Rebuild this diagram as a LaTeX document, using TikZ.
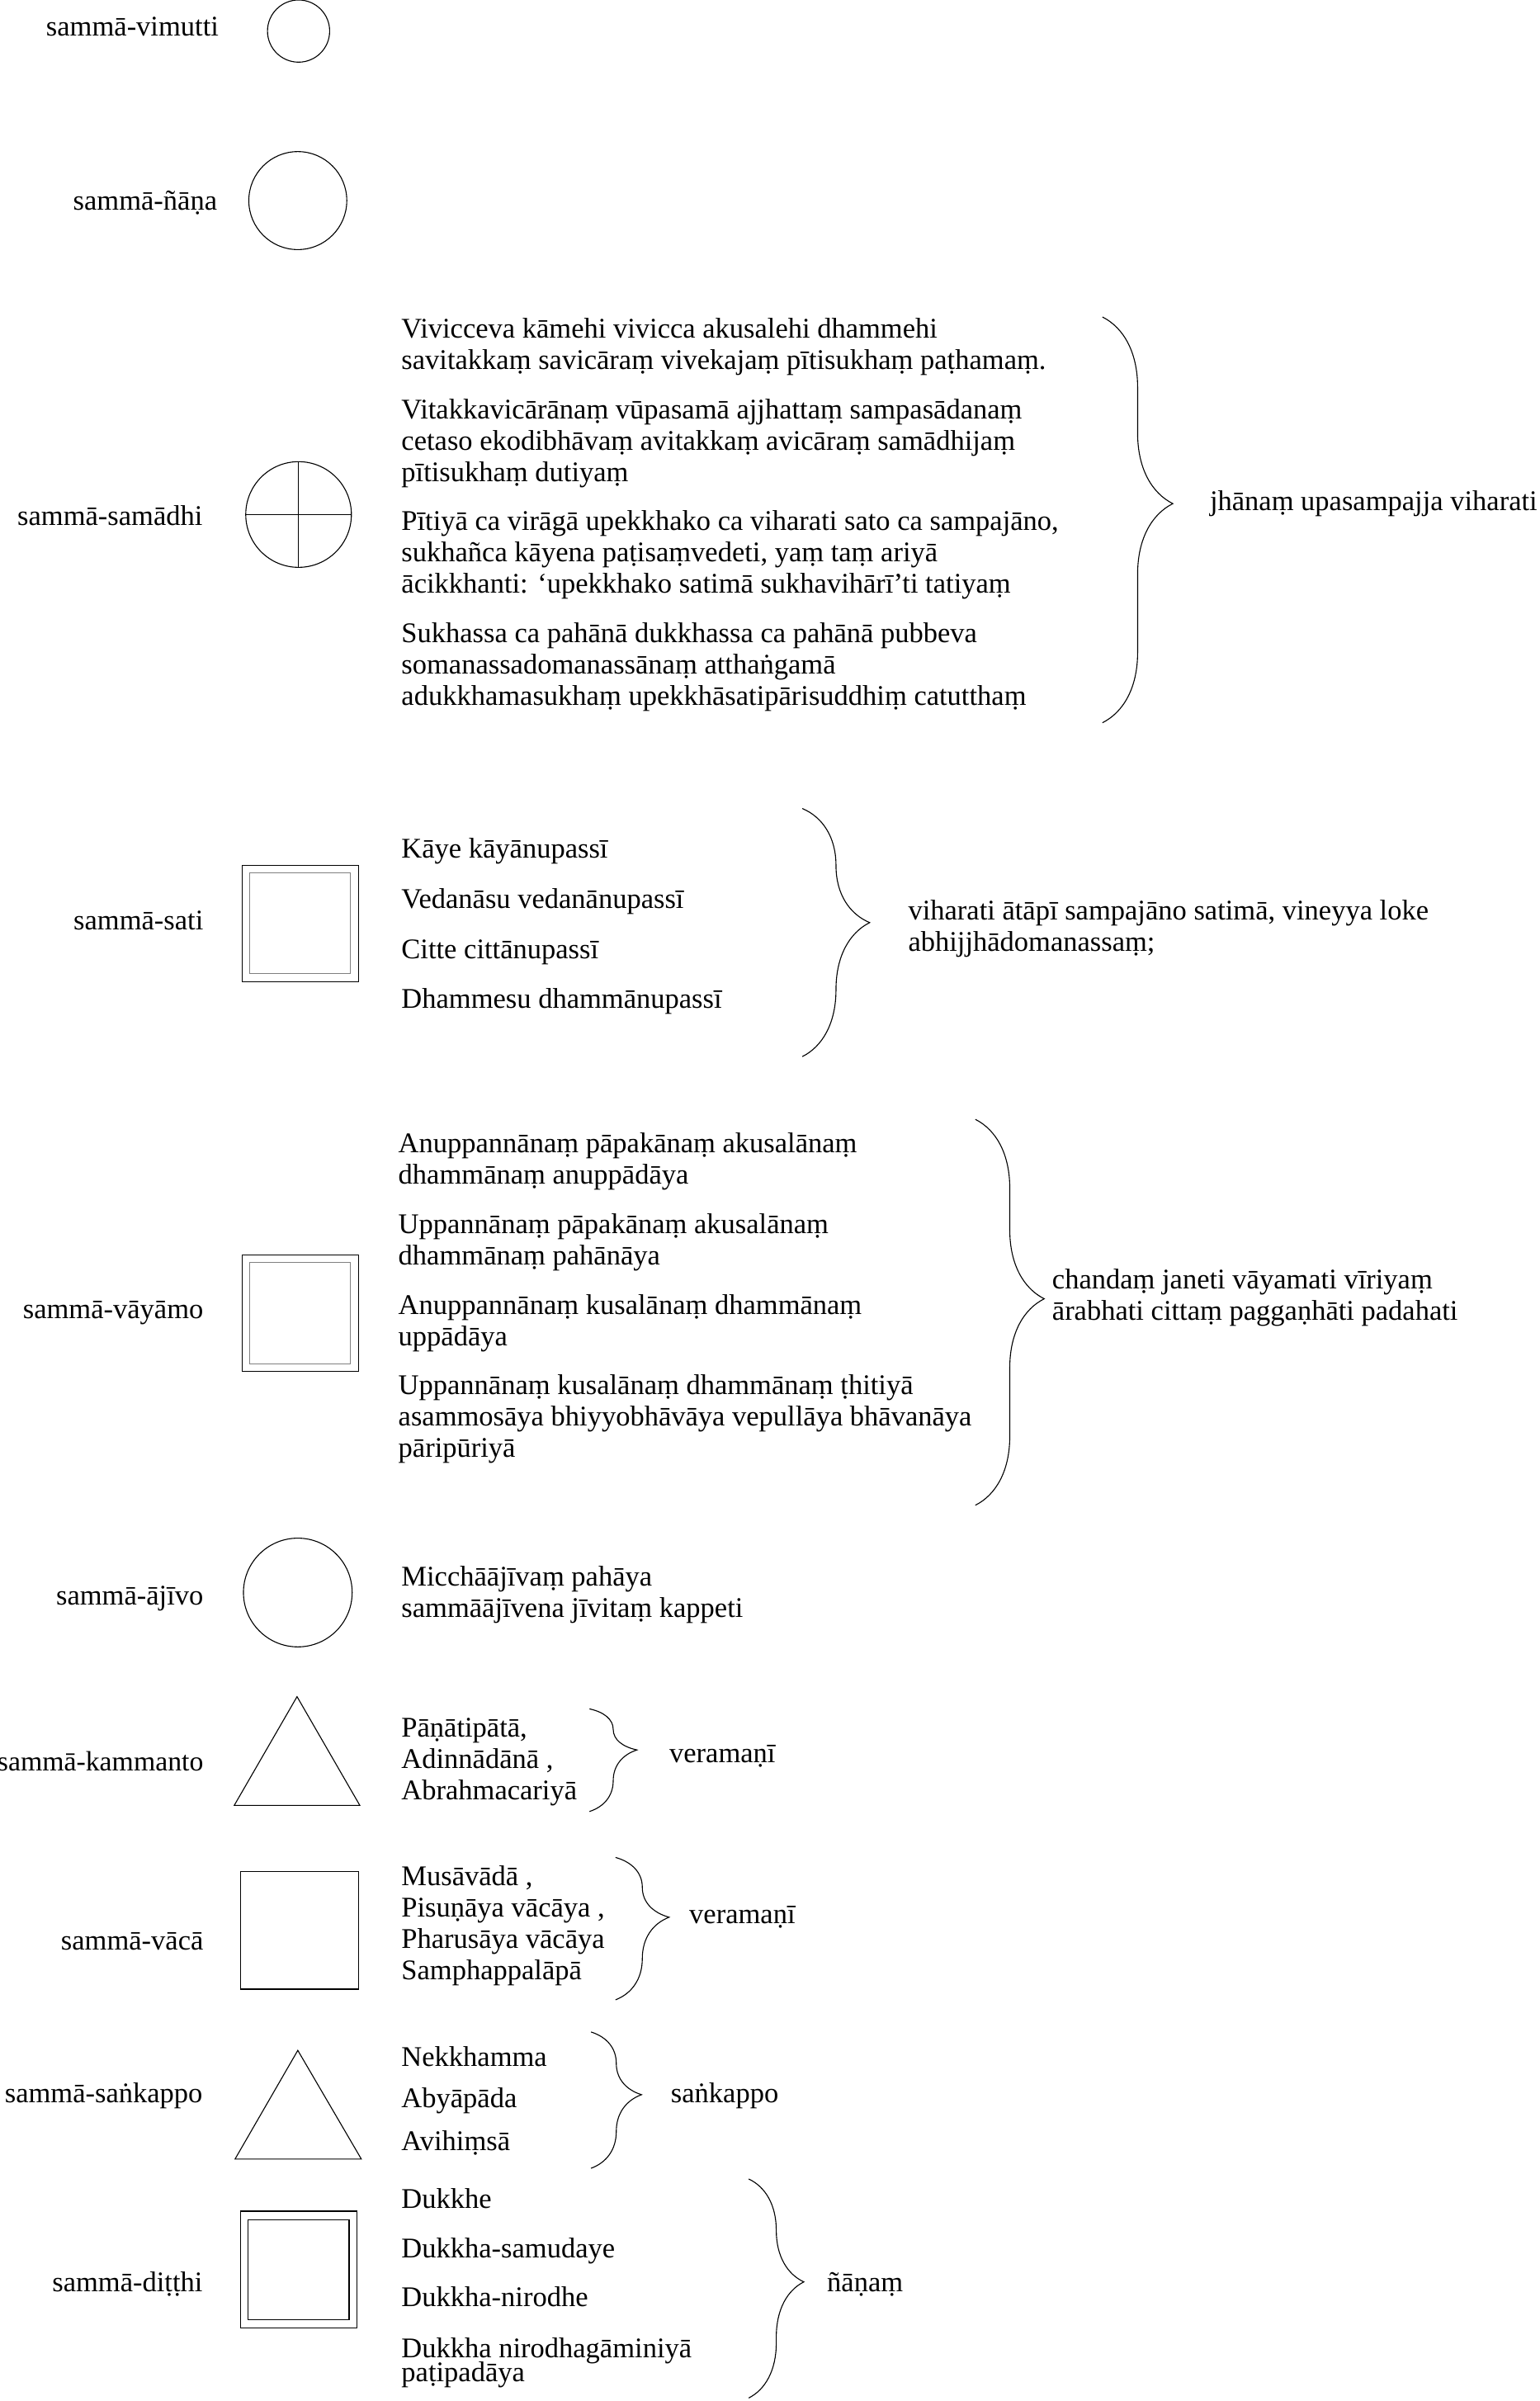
\documentclass[tikz,border=0pt]{standalone}
\usepackage{fontspec}
\setmainfont{Liberation Serif}
\usetikzlibrary{decorations.pathreplacing}

\tikzset{brc/.style n args={2}{line width=0.6pt, decorate, decoration={brace, amplitude=#1, aspect=#2}}}

\begin{document}
\begin{tikzpicture}[x=1pt,y=-1pt]
\tikzstyle{every node}=[inner sep=0pt, font=\fontsize{18.6}{20.5}\selectfont]
\tikzstyle{lbl}=[anchor=mid east]
\tikzstyle{txt}=[anchor=base west, align=left]
\tikzstyle{itm}=[anchor=mid west]
\tikzstyle{shp}=[line width=0.6pt]
\useasboundingbox (0,0) rectangle (1005.3,1568);

% samma-vimutti, samma-nana
\node[lbl] (lvimutti) at (143,21) {sammā-vimutti};
\draw[shp] (195,20.3) circle (20.3);
\node[lbl] (lnana) at (142,135) {sammā-ñāṇa};
\draw[shp] (194.5,131) circle (32);

% samma-samadhi
\node[lbl] (lsamadhi) at (132.5,341) {sammā-samādhi};
\draw[shp] (195,336) circle (34.5);
\draw[shp] (195,301.5) -- (195,370.5);
\draw[shp] (160.5,336) -- (229.5,336);
\node[txt] (jhana1) at (262,241) {Vivicceva kāmehi vivicca akusalehi dhammehi\\savitakkaṃ savicāraṃ vivekajaṃ pītisukhaṃ paṭhamaṃ.};
\node[txt] (jhana2) at (262,314.5) {Vitakkavicārānaṃ vūpasamā ajjhattaṃ sampasādanaṃ\\cetaso ekodibhāvaṃ avitakkaṃ avicāraṃ samādhijaṃ\\pītisukhaṃ dutiyaṃ};
\node[txt] (jhana3) at (262,387.5) {Pītiyā ca virāgā upekkhako ca viharati sato ca sampajāno,\\sukhañca kāyena paṭisaṃvedeti, yaṃ taṃ ariyā\\ācikkhanti: ‘upekkhako satimā sukhavihārī’ti tatiyaṃ};
\node[txt] (jhana4) at (262,460.5) {Sukhassa ca pahānā dukkhassa ca pahānā pubbeva\\somanassadomanassānaṃ atthaṅgamā\\adukkhamasukhaṃ upekkhāsatipārisuddhiṃ catutthaṃ};
\draw[brc={46pt}{0.46}] (720,207) -- (720,472);
\node[itm] (rsamadhi) at (790,331) {jhānaṃ upasampajja viharati};

% samma-sati
\node[lbl] (lsati) at (133,605) {sammā-sati};
\draw[shp] (158,565) rectangle (234,641);
\draw[shp, gray] (163,570) rectangle (229,636);
\node[itm] (sati1) at (262,558) {Kāye kāyānupassī};
\node[itm] (sati2) at (262,591) {Vedanāsu vedanānupassī};
\node[itm] (sati3) at (262,624) {Citte cittānupassī};
\node[itm] (sati4) at (262,656) {Dhammesu dhammānupassī};
\draw[brc={44pt}{0.46}] (524,528) -- (524,690);
\node[txt] (rsati) at (593,621) {viharati ātāpī sampajāno satimā, vineyya loke\\abhijjhādomanassaṃ;};

% samma-vayamo
\node[lbl] (lvayamo) at (133,859) {sammā-vāyāmo};
\draw[shp] (158,819.5) rectangle (234,895.5);
\draw[shp, gray] (163,824.5) rectangle (229,890.5);
\node[txt] (padhana1) at (260,773) {Anuppannānaṃ pāpakānaṃ akusalānaṃ\\dhammānaṃ anuppādāya};
\node[txt] (padhana2) at (260,826) {Uppannānaṃ pāpakānaṃ akusalānaṃ\\dhammānaṃ pahānāya};
\node[txt] (padhana3) at (260,879) {Anuppannānaṃ kusalānaṃ dhammānaṃ\\uppādāya};
\node[txt] (padhana4) at (260,951.5) {Uppannānaṃ kusalānaṃ dhammānaṃ ṭhitiyā\\asammosāya bhiyyobhāvāya vepullāya bhāvanāya\\pāripūriyā};
\draw[brc={45pt}{0.465}] (637,731) -- (637,983);
\node[txt] (rvayamo) at (687,862) {chandaṃ janeti vāyamati vīriyaṃ\\ārabhati cittaṃ paggaṇhāti padahati};

% samma-ajivo
\node[lbl] (lajivo) at (133,1046) {sammā-ājīvo};
\draw[shp] (194.5,1040) circle (35.5);
\node[txt] (ajivo) at (262,1056) {Micchāājīvaṃ pahāya\\sammāājīvena jīvitaṃ kappeti};

% samma-kammanto
\node[lbl, font=\fontsize{18.2}{20.5}\selectfont] (lkammanto) at (133,1154) {sammā-kammanto};
\draw[shp] (194,1108) -- (235,1179) -- (153,1179) -- cycle;
\node[txt] (kammanto) at (262,1175.5) {Pāṇātipātā,\\Adinnādānā ,\\Abrahmacariyā};
\draw[brc={31pt}{0.4}] (385,1116) -- (385,1183);
\node[itm] (rkammanto) at (437,1149) {veramaṇī};

% samma-vaca
\node[lbl] (lvaca) at (133,1271) {sammā-vācā};
\draw[shp] (157,1222) rectangle (234,1299);
\node[txt] (vaca) at (262,1293) {Musāvādā ,\\Pisuṇāya vācāya ,\\Pharusāya vācāya\\Samphappalāpā};
\draw[brc={35pt}{0.42}] (402,1213) -- (402,1306);
\node[itm] (rvaca) at (450,1254) {veramaṇī};

% samma-sankappo
\node[lbl] (lsankappo) at (132.5,1371) {sammā-saṅkappo};
\draw[shp] (194.5,1339) -- (236,1410) -- (153.5,1410) -- cycle;
\node[itm] (sankappo1) at (262,1347) {Nekkhamma};
\node[itm] (sankappo2) at (262,1374) {Abyāpāda};
\node[itm] (sankappo3) at (262,1402) {Avihiṃsā};
\draw[brc={33pt}{0.46}] (386,1327) -- (386,1416);
\node[itm] (rsankappo) at (438,1371) {saṅkappo};

% samma-ditthi
\node[lbl] (lditthi) at (132.5,1494) {sammā-diṭṭhi};
\draw[shp] (157,1444) rectangle (233,1520.5);
\draw[shp] (162,1449.5) rectangle (228,1515);
\node[itm] (sacca1) at (262,1440) {Dukkhe};
\node[itm] (sacca2) at (262,1472) {Dukkha-samudaye};
\node[itm] (sacca3) at (262,1504) {Dukkha-nirodhe};
\node[txt] (sacca4) at (262,1555.5) {Dukkha nirodhagāminiyā\\[-4.5pt]paṭipadāya};
\draw[brc={36pt}{0.47}] (489,1423) -- (489,1566);
\node[itm] (rditthi) at (540,1494) {ñāṇaṃ};
\end{tikzpicture}
\end{document}
